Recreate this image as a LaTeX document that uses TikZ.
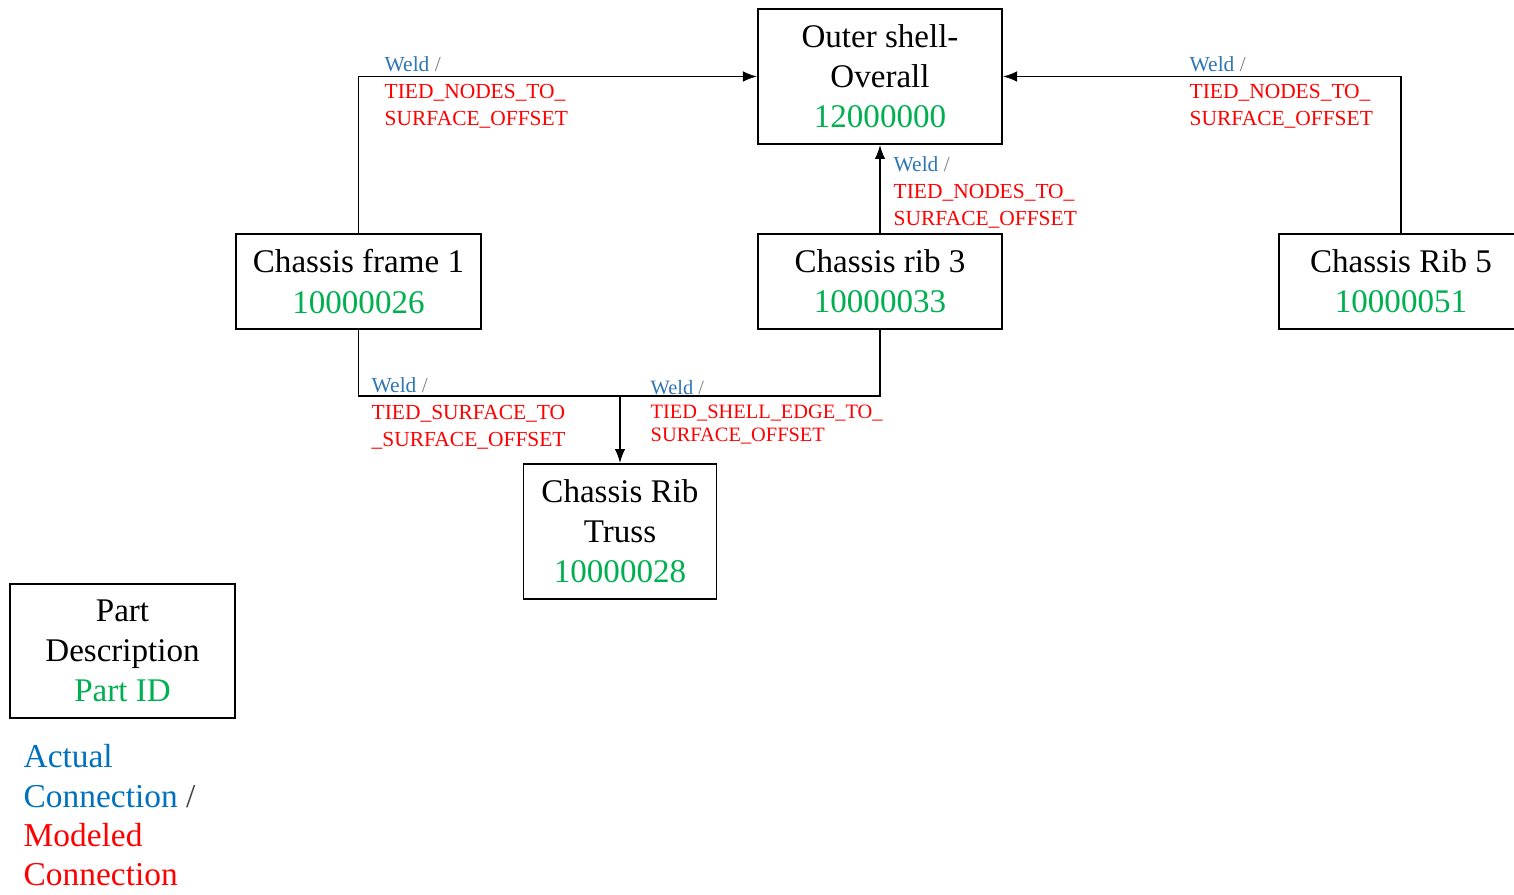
\documentclass[tikz,border=0pt]{standalone}
\usepackage{fontspec}
\setmainfont{Liberation Serif}
\usetikzlibrary{arrows.meta}

\definecolor{idGreen}{HTML}{00B050}
\definecolor{weldBlue}{HTML}{2E75B6}
\definecolor{actualBlue}{HTML}{0070C0}
\definecolor{modelRed}{HTML}{FF0000}
\definecolor{slashGrey}{HTML}{7F7F7F}

\newcommand{\weldline}{\textcolor{weldBlue}{Weld} \textcolor{slashGrey}{/}}

\begin{document}
\begin{tikzpicture}[x=0.01cm, y=-0.01cm,
    part/.style={draw, line width=0.5pt, align=center, inner sep=0pt,
        font=\fontsize{9.4}{11.4}\selectfont},
    weld/.style={anchor=base west, align=left, inner sep=0pt,
        font=\fontsize{6.1}{7.7}\selectfont},
    weldsmall/.style={weld, font=\fontsize{5.8}{6.8}\selectfont},
    link/.style={line width=0.45pt},
    >={Latex[length=4pt,width=3pt]}]

    \useasboundingbox (0,0) rectangle (1514,895);
    \clip (0,0) rectangle (1514,895);

    % Parts
    \node[part, minimum width=2.44cm, minimum height=1.35cm] (outer) at (880,76.5)
        {Outer shell-\\Overall\\\textcolor{idGreen}{12000000}};
    \node[part, minimum width=2.45cm, minimum height=0.95cm] (frame1) at (358.5,281.5)
        {Chassis frame 1\\\textcolor{idGreen}{10000026}};
    \node[part, minimum width=2.44cm, minimum height=0.95cm] (rib3) at (880,281.5)
        {Chassis rib 3\\\textcolor{idGreen}{10000033}};
    \node[part, minimum width=2.44cm, minimum height=0.95cm] (rib5) at (1401,281.5)
        {Chassis Rib 5\\\textcolor{idGreen}{10000051}};
    \node[part, minimum width=1.93cm, minimum height=1.35cm] (truss) at (620,531.5)
        {Chassis Rib\\Truss\\\textcolor{idGreen}{10000028}};

    % Connections
    \coordinate (joint) at (620,396);
    \draw[link,->] (frame1.north) |- (outer.west);
    \draw[link,->] (rib5.north) |- (outer.east);
    \draw[link,->] (rib3.north) -- (outer.south);
    \draw[link] (frame1.south) |- (joint) -| (rib3.south);
    \draw[link,->] (joint) -- (truss.north);

    % Connection labels (anchored on the baseline of their last line)
    \node[weld] (lblFrame) at (384,126)
        {\weldline\\\textcolor{modelRed}{TIED\_NODES\_TO\_}\\\textcolor{modelRed}{SURFACE\_OFFSET}};
    \node[weld] (lblRibFive) at (1189,126)
        {\weldline\\\textcolor{modelRed}{TIED\_NODES\_TO\_}\\\textcolor{modelRed}{SURFACE\_OFFSET}};
    \node[weld] (lblRibThree) at (893,226)
        {\weldline\\\textcolor{modelRed}{TIED\_NODES\_TO\_}\\\textcolor{modelRed}{SURFACE\_OFFSET}};
    \node[weld] (lblTrussL) at (371,447)
        {\weldline\\\textcolor{modelRed}{TIED\_SURFACE\_TO}\\\textcolor{modelRed}{\_SURFACE\_OFFSET}};
    \node[weldsmall] (lblTrussR) at (650,442)
        {\weldline\\\textcolor{modelRed}{TIED\_SHELL\_EDGE\_TO\_}\\\textcolor{modelRed}{SURFACE\_OFFSET}};

    % Legend
    \node[part, minimum width=2.25cm, minimum height=1.34cm] (key) at (122.5,651)
        {Part\\Description\\\textcolor{idGreen}{Part ID}};
    \node[anchor=base west, align=left, inner sep=0pt,
        font=\fontsize{9.5}{11.2}\selectfont] (keyText) at (23,886)
        {\textcolor{actualBlue}{Actual}\\\textcolor{actualBlue}{Connection} \textcolor{darkgray}{/}\\
         \textcolor{modelRed}{Modeled}\\\textcolor{modelRed}{Connection}};

\end{tikzpicture}
\end{document}
